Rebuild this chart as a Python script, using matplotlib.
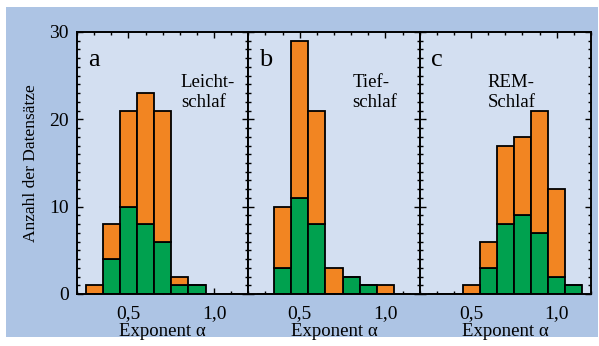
import matplotlib
matplotlib.use("Agg")
import matplotlib.pyplot as plt
from matplotlib.patches import Rectangle
from matplotlib.ticker import MultipleLocator, FixedLocator, FixedFormatter

plt.rcParams['font.family'] = ['Liberation Serif', 'DejaVu Serif']

# Histogram bin centres (exponent alpha) and counts per sleep stage
bins = [0.3, 0.4, 0.5, 0.6, 0.7, 0.8, 0.9, 1.0, 1.1]

leicht_total = [1, 8, 21, 23, 21, 2, 1, 0, 0]
leicht_green = [0, 4, 10, 8, 6, 1, 1, 0, 0]

tief_total = [0, 10, 29, 21, 3, 2, 1, 1, 0]
tief_green = [0, 3, 11, 8, 0, 2, 1, 0, 0]

rem_total = [0, 0, 1, 6, 17, 18, 21, 12, 1]
rem_green = [0, 0, 0, 3, 8, 9, 7, 2, 1]

panel_letters = ["a", "b", "c"]
panel_titles = ["Leicht-\nschlaf", "Tief-\nschlaf", "REM-\nSchlaf"]
title_x = [0.606, 0.606, 0.395]

xtick_values = [0.5, 1.0]
xtick_labels = ["0,5", "1,0"]
ytick_values = [0, 10, 20, 30]

ORANGE = "#f28522"
GREEN = "#00a14f"
OUTER = "#adc4e4"
INNER = "#d3dff1"

W, H = 599, 346
fig = plt.figure(figsize=(W / 100, H / 100), dpi=100, facecolor="white")
fig.patches.append(Rectangle((6 / W, 9 / H), (W - 7) / W, (H - 16) / H,
                             transform=fig.transFigure, facecolor=OUTER,
                             edgecolor="none", zorder=-10))

left, right = 77 / W, 591 / W
bottom, top = 1 - 294 / H, 1 - 32 / H
pw = (right - left) / 3

series = [(leicht_total, leicht_green), (tief_total, tief_green),
          (rem_total, rem_green)]

for i, (tot, grn) in enumerate(series):
    ax = fig.add_axes([left + i * pw, bottom, pw, top - bottom])
    ax.set_facecolor(INNER)
    orange_part = [t - g for t, g in zip(tot, grn)]
    ax.bar(bins, grn, width=0.1, color=GREEN, edgecolor="black",
           linewidth=1.3, zorder=2)
    ax.bar(bins, orange_part, bottom=grn, width=0.1, color=ORANGE,
           edgecolor="black", linewidth=1.3, zorder=2)
    ax.set_xlim(0.2, 1.2)
    ax.set_ylim(0, 30)
    for s in ax.spines.values():
        s.set_linewidth(1.4)
        s.set_zorder(5)
    ax.xaxis.set_major_locator(FixedLocator(xtick_values))
    ax.xaxis.set_major_formatter(FixedFormatter(xtick_labels))
    ax.xaxis.set_minor_locator(MultipleLocator(0.1))
    ax.yaxis.set_major_locator(FixedLocator(ytick_values))
    ax.yaxis.set_minor_locator(MultipleLocator(1))
    ax.tick_params(which="both", direction="in", top=True, right=True,
                   width=1.0, labelsize=14)
    ax.tick_params(axis="x", which="both", pad=8)
    ax.tick_params(axis="y", which="both", pad=6)
    ax.tick_params(which="major", length=4.5)
    ax.tick_params(which="minor", length=2.2)
    ax.set_xlabel("Exponent α", fontsize=13.5, labelpad=1)
    if i == 0:
        ax.set_ylabel("Anzahl der Datensätze", fontsize=12.5, labelpad=7)
    else:
        ax.tick_params(labelleft=False)
    ax.text(0.065, 0.87, panel_letters[i], transform=ax.transAxes,
            fontsize=19, ha="left", va="baseline")
    ax.text(title_x[i], 0.84, panel_titles[i], transform=ax.transAxes,
            fontsize=13.5, ha="left", va="top", linespacing=1.2)

fig.savefig("out.png", dpi=100, facecolor="white")
